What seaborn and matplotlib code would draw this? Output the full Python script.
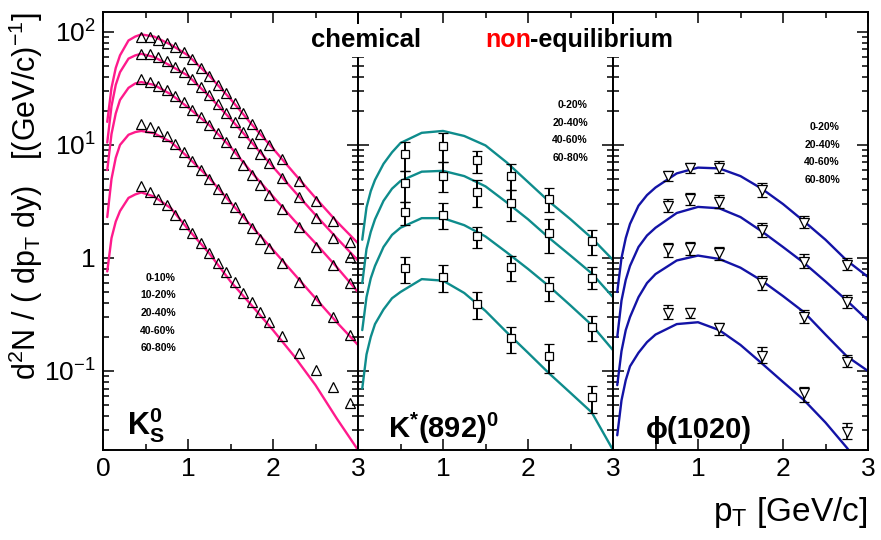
import matplotlib
matplotlib.use('Agg')
import matplotlib.pyplot as plt
import seaborn as sns
from matplotlib.patches import Rectangle
from matplotlib.ticker import MultipleLocator

# ---------------- data ----------------
# K0s (triangles), five centralities
pt_k0 = [0.45, 0.55, 0.65, 0.75, 0.85, 0.95, 1.05, 1.15, 1.25, 1.35, 1.45,
         1.55, 1.65, 1.75, 1.85, 1.95, 2.1, 2.3, 2.5, 2.7, 2.9]
k0_0_10 = [91, 90, 85, 79, 73, 66, 58, 48, 41, 34, 28.7,
           23.4, 19.1, 15.4, 12.5, 10.0, 7.47, 4.83, 3.21, 2.14, 1.39]
k0_10_20 = [63.5, 63.5, 59.7, 55.4, 49.3, 44.6, 38.4, 32.8, 27.7, 22.9, 19.1,
            15.9, 12.9, 10.4, 8.33, 6.97, 5.07, 3.44, 2.24, 1.49, 1.03]
k0_20_40 = [38.4, 35.9, 33.5, 30.7, 27.3, 24.0, 20.4, 17.7, 15.0, 12.8, 10.6,
            8.5, 6.65, 5.43, 4.43, 3.61, 2.70, 1.87, 1.26, 0.867, 0.597]
k0_40_60 = [15.2, 14.5, 13.3, 12.1, 10.1, 8.72, 7.22, 6.01, 5.00, 4.08, 3.37,
            2.84, 2.24, 1.83, 1.46, 1.22, 0.897, 0.617, 0.425, 0.298, 0.208]
k0_60_80 = [4.34, 3.86, 3.31, 2.94, 2.40, 2.00, 1.65, 1.37, 1.11, 0.909, 0.757,
            0.614, 0.493, 0.410, 0.335, 0.273, 0.204, 0.145, 0.102, 0.0726, 0.0518]

# model curves for K0s
pt_model_k0 = [0.05, 0.1, 0.15, 0.2, 0.3, 0.38, 0.45, 0.6, 0.8, 1.0, 1.25, 1.5,
               1.75, 2.0, 2.25, 2.5, 2.75, 3.0]
fit_k0_0_10 = [16, 32, 48, 62, 84, 91, 95, 91, 77, 62, 41, 25.5, 15.2, 9.3, 5.6, 3.4, 2.1, 1.35]
fit_k0_10_20 = [10.5, 22, 34, 44, 58, 62, 64, 60, 50, 41, 27, 17, 10.5, 6.4, 3.9, 2.4, 1.5, 0.95]
fit_k0_20_40 = [6.0, 12.5, 19, 25, 32, 35, 36, 34, 28, 21.5, 15, 9.6, 5.7, 3.5, 2.15, 1.35, 0.83, 0.50]
fit_k0_40_60 = [2.3, 5.0, 7.7, 10, 12.3, 13, 13.3, 12.7, 10.6, 7.8, 5.1, 3.1, 1.9, 1.18, 0.72, 0.44, 0.27, 0.17]
fit_k0_60_80 = [0.76, 1.5, 2.1, 2.6, 3.4, 3.65, 3.8, 3.5, 2.75, 1.8, 1.1, 0.62, 0.38, 0.23, 0.135, 0.075, 0.038, 0.02]

# K*(892)0 (squares with errors), four centralities
pt_kstar = [0.55, 1.0, 1.4, 1.8, 2.25, 2.75]
ks_0_20 = [8.27, 9.8, 7.37, 5.32, 3.33, 1.41]
ks_0_20_lo = [5.9, 7.1, 5.7, 4.0, 2.57, 1.06]
ks_0_20_hi = [10.7, 12.7, 8.9, 6.8, 4.14, 1.77]
ks_20_40 = [4.58, 5.32, 3.86, 3.05, 1.65, 0.67]
ks_20_40_lo = [3.15, 3.86, 2.84, 2.14, 1.11, 0.53]
ks_20_40_hi = [5.9, 7.1, 4.9, 4.0, 2.2, 0.84]
ks_40_60 = [2.54, 2.40, 1.57, 0.83, 0.55, 0.246]
ks_40_60_lo = [1.96, 1.80, 1.22, 0.62, 0.42, 0.185]
ks_40_60_hi = [3.15, 3.05, 1.89, 1.04, 0.68, 0.307]
ks_60_80 = [0.81, 0.68, 0.39, 0.197, 0.136, 0.059]
ks_60_80_lo = [0.605, 0.50, 0.287, 0.144, 0.0955, 0.0428]
ks_60_80_hi = [1.01, 0.87, 0.50, 0.246, 0.173, 0.0736]

pt_model = [0.05, 0.1, 0.15, 0.2, 0.3, 0.4, 0.5, 0.75, 1.0, 1.25, 1.5, 1.75,
            2.0, 2.25, 2.5, 2.75, 3.0]
fit_ks_0_20 = [1.45, 2.8, 3.9, 4.9, 6.8, 8.6, 10.4, 12.8, 13.3, 12.0, 9.9, 7.0, 4.7, 3.15, 2.2, 1.5, 0.96]
fit_ks_20_40 = [0.6, 1.2, 1.7, 2.2, 3.2, 4.1, 4.8, 5.8, 5.9, 5.3, 4.3, 3.1, 2.2, 1.5, 1.05, 0.73, 0.45]
fit_ks_40_60 = [0.23, 0.45, 0.66, 0.85, 1.25, 1.6, 1.85, 2.25, 2.25, 1.95, 1.55, 1.12, 0.8, 0.56, 0.38, 0.255, 0.153]
fit_ks_60_80 = [0.07, 0.14, 0.2, 0.26, 0.35, 0.44, 0.5, 0.65, 0.63, 0.49, 0.34, 0.22, 0.145, 0.095, 0.064, 0.043, 0.02]

# phi(1020) (inverted triangles with errors)
pt_phi = [0.65, 0.9, 1.25, 1.75, 2.25, 2.75]
phi_0_20 = [5.32, 6.3, 6.22, 4.0, 2.03, 0.87]
phi_0_20_lo = [4.80, 5.69, 5.62, 3.48, 1.84, 0.78]
phi_0_20_hi = [5.89, 6.97, 7.21, 4.58, 2.36, 1.0]
phi_20_40 = [2.89, 3.31, 3.15, 1.77, 0.93, 0.41]
phi_20_40_lo = [2.57, 2.94, 2.75, 1.52, 0.81, 0.36]
phi_20_40_hi = [3.31, 3.74, 3.61, 2.03, 1.08, 0.47]
phi_40_60 = [1.19, 1.22, 1.10, 0.60, 0.30, 0.121]
phi_40_60_lo = [1.03, 1.06, 0.96, 0.52, 0.267, 0.109]
phi_40_60_hi = [1.37, 1.39, 1.26, 0.69, 0.347, 0.139]
phi_60_80 = [0.328, 0.324, 0.239, 0.136, 0.0635, 0.029]
phi_60_80_lo = [0.287, 0.292, 0.208, 0.117, 0.0535, 0.0249]
phi_60_80_hi = [0.384, 0.359, 0.267, 0.162, 0.0726, 0.0344]

fit_phi_0_20 = [0.5, 1.0, 1.5, 2.0, 2.9, 3.6, 4.2, 5.6, 6.3, 6.2, 5.3, 4.1, 3.0, 2.1, 1.45, 0.95, 0.68]
fit_phi_20_40 = [0.2, 0.42, 0.64, 0.85, 1.25, 1.58, 1.85, 2.5, 2.83, 2.75, 2.3, 1.72, 1.25, 0.9, 0.62, 0.42, 0.28]
fit_phi_40_60 = [0.075, 0.15, 0.23, 0.3, 0.45, 0.6, 0.72, 0.95, 1.05, 0.98, 0.82, 0.63, 0.46, 0.33, 0.21, 0.135, 0.10]
fit_phi_60_80 = [0.027, 0.055, 0.083, 0.11, 0.145, 0.18, 0.21, 0.26, 0.27, 0.23, 0.17, 0.117, 0.08, 0.055, 0.035, 0.021, 0.012]

cent_k0 = ['0-10%', '10-20%', '20-40%', '40-60%', '60-80%']
cent_4 = ['0-20%', '20-40%', '40-60%', '60-80%']

PINK = '#ff1a8c'
TEAL = '#0e8c8c'
NAVY = '#1313a6'

# ---------------- style ----------------
sns.set_style('ticks')
plt.rcParams['font.family'] = ['Liberation Sans', 'DejaVu Sans']
plt.rcParams['mathtext.fontset'] = 'custom'
plt.rcParams['mathtext.rm'] = 'Liberation Sans'
plt.rcParams['mathtext.it'] = 'Liberation Sans'
plt.rcParams['mathtext.bf'] = 'Liberation Sans:bold'
for key in ['text.color', 'axes.labelcolor', 'xtick.color', 'ytick.color', 'axes.edgecolor']:
    plt.rcParams[key] = 'black'

W, H = 881, 540
fig = plt.figure(figsize=(W / 100, H / 100), dpi=100)

left, right, top, bottom = 103, 868, 12, 450
pw = (right - left) / 3
axes = []
for i in range(3):
    ax = fig.add_axes([(left + i * pw) / W, 1 - bottom / H, pw / W, (bottom - top) / H])
    axes.append(ax)

minor_y = [m * 10.0 ** e for e in range(-2, 3) for m in range(2, 10)]
for i, ax in enumerate(axes):
    ax.set_yscale('log')
    ax.set_xlim(0, 3)
    ax.set_yticks([0.1, 1, 10, 100])
    ax.set_yticks(minor_y, minor=True)
    ax.yaxis.set_minor_formatter(plt.NullFormatter())
    ax.xaxis.set_major_locator(MultipleLocator(1))
    ax.xaxis.set_minor_locator(MultipleLocator(0.5))
    ax.tick_params(which='both', direction='in', top=True, right=True,
                   labelsize=19, width=1.1, pad=5)
    ax.tick_params(which='major', length=8)
    ax.tick_params(which='minor', length=4)
    ax.set_ylim(0.02, 150)
    for s in ax.spines.values():
        s.set_linewidth(1.4)
    ax.set_xticks([0, 1, 2, 3])
    if i == 0:
        ax.set_yticklabels([r'$10^{-1}$', '1', r'$10^{1}$', r'$10^{2}$'])
        ax.set_xticklabels(['0', '1', '2', '3'])
    else:
        ax.set_yticklabels([])
        ax.set_xticklabels(['', '1', '2', '3'])

# ---- panel 1: K0s ----
ax = axes[0]
for fit in [fit_k0_0_10, fit_k0_10_20, fit_k0_20_40, fit_k0_40_60, fit_k0_60_80]:
    sns.lineplot(x=pt_model_k0, y=fit, ax=ax, color=PINK, lw=1.7, sort=False, estimator=None)
for dat in [k0_0_10, k0_10_20, k0_20_40, k0_40_60, k0_60_80]:
    ax.plot(pt_k0, dat, ls='none', marker='^', ms=7, mfc='none', mec='black', mew=0.9, zorder=3)

# ---- panel 2: K*(892)0 ----
ax = axes[1]
for fit in [fit_ks_0_20, fit_ks_20_40, fit_ks_40_60, fit_ks_60_80]:
    sns.lineplot(x=pt_model, y=fit, ax=ax, color=TEAL, lw=1.7, sort=False, estimator=None)
for dat, lo, hi in [(ks_0_20, ks_0_20_lo, ks_0_20_hi), (ks_20_40, ks_20_40_lo, ks_20_40_hi),
                    (ks_40_60, ks_40_60_lo, ks_40_60_hi), (ks_60_80, ks_60_80_lo, ks_60_80_hi)]:
    yerr = [[d - l for d, l in zip(dat, lo)], [h - d for d, h in zip(dat, hi)]]
    ax.errorbar(pt_kstar, dat, yerr=yerr, fmt='s', ms=5.5, mfc='white', mec='black', mew=0.9,
                ecolor='black', elinewidth=1.4, capsize=3.5, capthick=1.4, zorder=3)

# ---- panel 3: phi(1020) ----
ax = axes[2]
for fit in [fit_phi_0_20, fit_phi_20_40, fit_phi_40_60, fit_phi_60_80]:
    sns.lineplot(x=pt_model, y=fit, ax=ax, color=NAVY, lw=1.7, sort=False, estimator=None)
for dat, lo, hi in [(phi_0_20, phi_0_20_lo, phi_0_20_hi), (phi_20_40, phi_20_40_lo, phi_20_40_hi),
                    (phi_40_60, phi_40_60_lo, phi_40_60_hi), (phi_60_80, phi_60_80_lo, phi_60_80_hi)]:
    yerr = [[d - l for d, l in zip(dat, lo)], [h - d for d, h in zip(dat, hi)]]
    ax.errorbar(pt_phi, dat, yerr=yerr, fmt='v', ms=7, mfc='white', mec='black', mew=0.9,
                ecolor='black', elinewidth=1.2, capsize=3.5, capthick=1.2, zorder=3)

# ---- legends (centrality lists) ----
for k, lab in enumerate(cent_k0):
    fig.text(176 / W, 1 - (278 + 17.5 * k) / H, lab, ha='right', va='center',
             fontsize=7.5, weight='bold')
for k, lab in enumerate(cent_4):
    fig.text(588 / W, 1 - (105 + 17.5 * k) / H, lab, ha='right', va='center',
             fontsize=7.5, weight='bold')
    fig.text(840 / W, 1 - (127 + 17.5 * k) / H, lab, ha='right', va='center',
             fontsize=7.5, weight='bold')

# ---- particle labels ----
fig.text(127 / W, 1 - 425 / H, r'$\mathbf{K^0_S}$', fontsize=22, va='center', ha='left')
fig.text(388 / W, 1 - 428 / H, r'$\mathbf{K^{*}(892)^{0}}$', fontsize=21, va='center', ha='left')
fig.text(646 / W, 1 - 430 / H, 'ϕ(1020)', fontsize=21, weight='bold', va='center', ha='left',
         family=['Liberation Sans', 'DejaVu Sans'])

# ---- title (white boxes hide the panel borders behind it) ----
for x0, x1 in [(302, 430), (480, 672)]:
    fig.add_artist(Rectangle((x0 / W, 1 - 57 / H), (x1 - x0) / W, 33 / H,
                             transform=fig.transFigure, facecolor='white',
                             edgecolor='none', zorder=4))
fig.text(366 / W, 1 - 40 / H, 'chemical', fontsize=18.5, weight='bold', va='center', ha='center', zorder=5)
fig.text(485 / W, 1 - 40 / H, 'non', fontsize=18, weight='bold', va='center', ha='left', color='red', zorder=5)
fig.text(530 / W, 1 - 40 / H, '-equilibrium', fontsize=18, weight='bold', va='center', ha='left', zorder=5)

# ---- axis titles ----
fig.text(26 / W, 1 - 196 / H, r'd$^2$N / ( dp$_T$ dy)   [(GeV/c)$^{-1}$]',
         rotation=90, fontsize=22, ha='center', va='center')
fig.text(867 / W, 1 - 513 / H, r'p$_T$ [GeV/c]', fontsize=24, ha='right', va='center')

fig.savefig('out.png', dpi=100)
